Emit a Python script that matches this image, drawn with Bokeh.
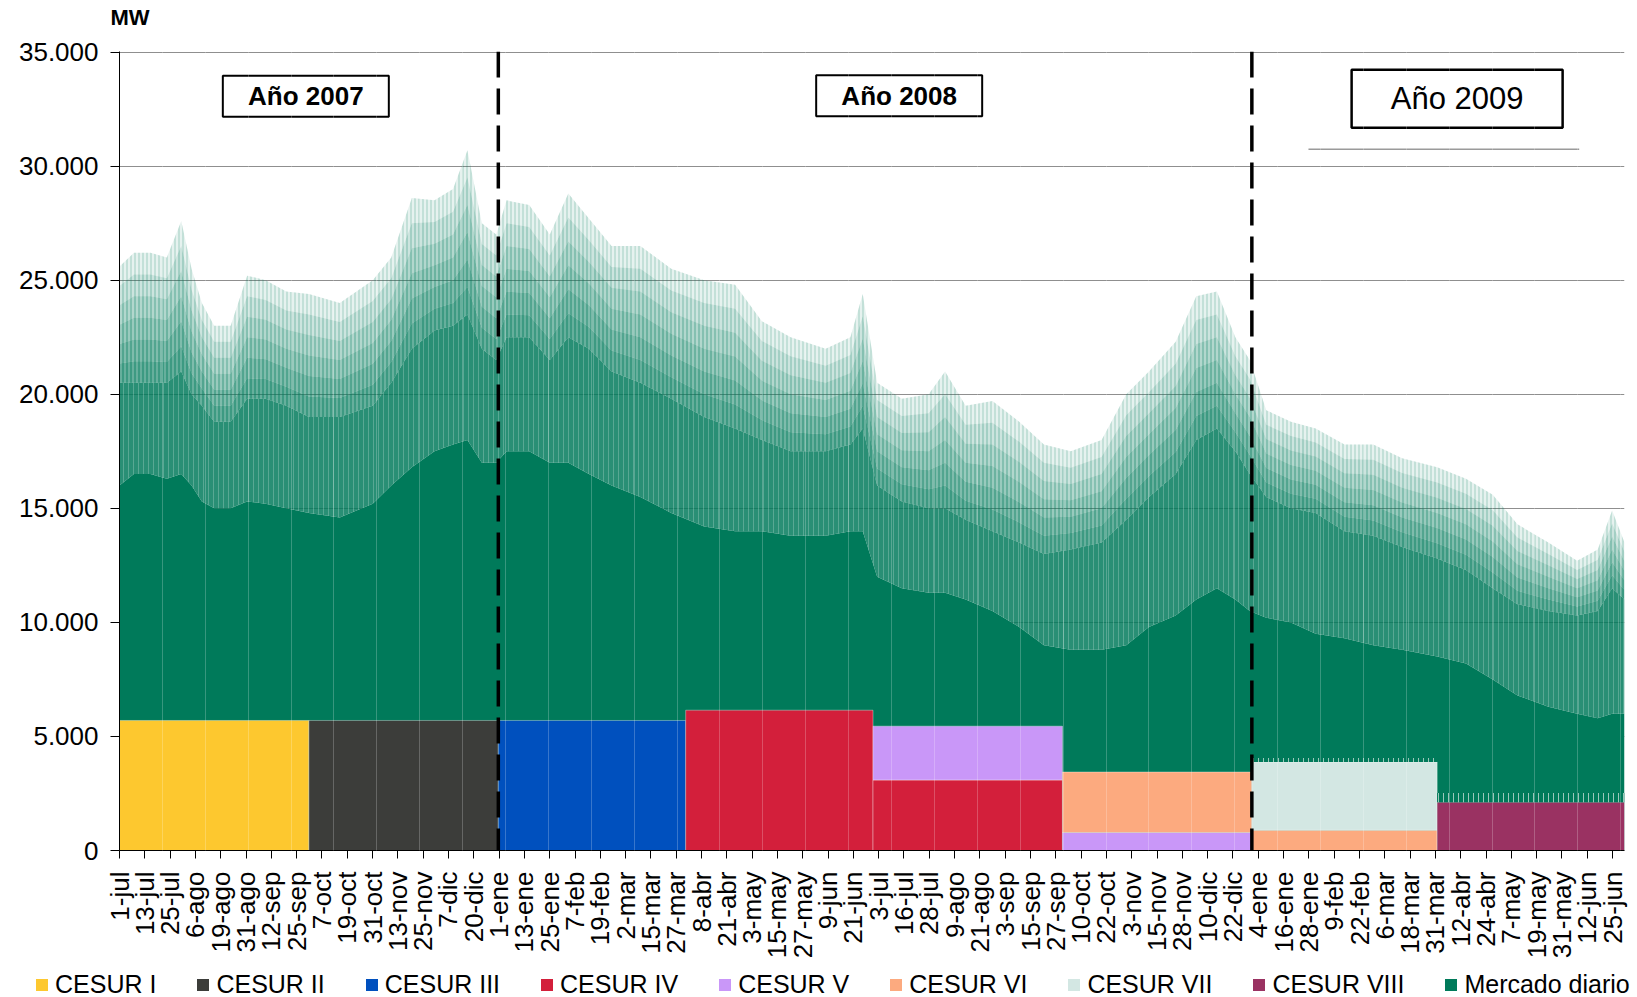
import numpy as np
import pandas as pd
from bokeh.plotting import figure
from bokeh.layouts import column
from bokeh.models import (Range1d, FixedTicker, Span, Label, Legend, LegendItem,
                          Grid, ColumnDataSource)
from bokeh.embed import file_html
from bokeh.resources import INLINE

# ---------------- data ----------------
START = pd.Timestamp("2007-07-01")
END = pd.Timestamp("2009-07-01")

x_tick_labels = ["1-jul", "13-jul", "25-jul", "6-ago", "19-ago", "31-ago", "12-sep", "25-sep",
                 "7-oct", "19-oct", "31-oct", "13-nov", "25-nov", "7-dic", "20-dic", "1-ene",
                 "13-ene", "25-ene", "7-feb", "19-feb", "2-mar", "15-mar", "27-mar", "8-abr",
                 "21-abr", "3-may", "15-may", "27-may", "9-jun", "21-jun", "3-jul", "16-jul",
                 "28-jul", "9-ago", "21-ago", "3-sep", "15-sep", "27-sep", "10-oct", "22-oct",
                 "3-nov", "15-nov", "28-nov", "10-dic", "22-dic", "4-ene", "16-ene", "28-ene",
                 "9-feb", "22-feb", "6-mar", "18-mar", "31-mar", "12-abr", "24-abr", "7-may",
                 "19-may", "31-may", "12-jun", "25-jun"]
x_tick_hours = 295  # one label every 295 hourly points

y_tick_values = [0, 5000, 10000, 15000, 20000, 25000, 30000, 35000]
y_tick_labels = ["0", "5.000", "10.000", "15.000", "20.000", "25.000", "30.000", "35.000"]

# Mercado diario (hourly series) read as envelopes: peak hours, dense band, solid night floor (MW)
env_dates = ["2007-07-01", "2007-07-08", "2007-07-16", "2007-07-24", "2007-07-31", "2007-08-05",
             "2007-08-10", "2007-08-16", "2007-08-24", "2007-09-01", "2007-09-10", "2007-09-20",
             "2007-10-01", "2007-10-16", "2007-11-01", "2007-11-10", "2007-11-20", "2007-12-01",
             "2007-12-10", "2007-12-17", "2007-12-24", "2007-12-31", "2008-01-05", "2008-01-16",
             "2008-01-26", "2008-02-04", "2008-02-14", "2008-02-25", "2008-03-10", "2008-03-25",
             "2008-04-10", "2008-04-25", "2008-05-08", "2008-05-22", "2008-06-08", "2008-06-20",
             "2008-06-26", "2008-07-03", "2008-07-15", "2008-07-28", "2008-08-05", "2008-08-15",
             "2008-08-28", "2008-09-10", "2008-09-22", "2008-10-05", "2008-10-20", "2008-11-01",
             "2008-11-12", "2008-11-25", "2008-12-05", "2008-12-15", "2008-12-24", "2008-12-31",
             "2009-01-08", "2009-01-20", "2009-02-01", "2009-02-15", "2009-03-01", "2009-03-15",
             "2009-04-01", "2009-04-15", "2009-04-28", "2009-05-10", "2009-05-25", "2009-06-08",
             "2009-06-18", "2009-06-25", "2009-07-01"]
env_peak = [25600, 26200, 26200, 26000, 27600, 25500, 24000, 23000, 23000, 25200, 25000, 24500,
            24400, 24000, 25000, 26000, 28600, 28500, 29000, 30700, 27500, 27000, 28500, 28300,
            27000, 28800, 27700, 26500, 26500, 25500, 25000, 24800, 23200, 22500, 22000, 22500,
            24400, 20500, 19800, 20000, 21000, 19500, 19700, 18800, 17800, 17500, 18000, 20000,
            21000, 22300, 24300, 24500, 22500, 21500, 19300, 18800, 18500, 17800, 17800, 17200,
            16800, 16300, 15600, 14300, 13500, 12700, 13200, 14900, 13500]
env_mid = [20500, 20500, 20500, 20500, 21000, 20000, 19500, 18800, 18800, 19800, 19800, 19500,
           19000, 19000, 19500, 20500, 22000, 22800, 23000, 23500, 22000, 21500, 22500, 22500,
           21500, 22500, 22000, 21000, 20500, 19800, 19000, 18500, 18000, 17500, 17500, 17800,
           18500, 16000, 15300, 15000, 15000, 14500, 14000, 13500, 13000, 13200, 13500, 14500,
           15500, 16500, 18000, 18500, 17500, 16500, 15500, 15000, 14800, 14000, 13800, 13300,
           12800, 12300, 11500, 10800, 10500, 10300, 10500, 11500, 11000]
env_floor = [16000, 16500, 16500, 16300, 16500, 16000, 15300, 15000, 15000, 15300, 15200, 15000,
             14800, 14600, 15200, 16000, 16800, 17500, 17800, 18000, 17000, 17000, 17500, 17500,
             17000, 17000, 16500, 16000, 15500, 14800, 14200, 14000, 14000, 13800, 13800, 14000,
             14000, 12000, 11500, 11300, 11300, 11000, 10500, 9800, 9000, 8800, 8800, 9000,
             9800, 10300, 11000, 11500, 11000, 10500, 10200, 10000, 9500, 9300, 9000, 8800,
             8500, 8200, 7500, 6800, 6300, 6000, 5800, 6000, 6000]

# CESUR auctions
cesur_names = ["CESUR I", "CESUR II", "CESUR III", "CESUR IV", "CESUR V", "CESUR VI",
               "CESUR VII", "CESUR VIII"]
block_product = ["CESUR I", "CESUR II", "CESUR III", "CESUR IV", "CESUR IV", "CESUR V",
                 "CESUR V", "CESUR VI", "CESUR VI", "CESUR VII", "CESUR VIII"]
block_start = ["2007-07-01", "2007-10-01", "2008-01-01", "2008-04-01", "2008-07-01", "2008-07-01",
               "2008-10-01", "2008-10-01", "2009-01-01", "2009-01-01", "2009-04-01"]
block_end = ["2007-10-01", "2008-01-01", "2008-04-01", "2008-07-01", "2008-10-01", "2008-10-01",
             "2009-01-01", "2009-01-01", "2009-04-01", "2009-04-01", "2009-07-01"]
block_mw = [5700, 5700, 5700, 6150, 3090, 2360, 790, 2650, 890, 2990, 2120]
fringe_product = ["CESUR VII", "CESUR VIII"]
fringe_mw = [170, 400]
market_name = "Mercado diario"
unit_label = "MW"

# ---------------- styles ----------------
GREEN = "#007A5A"
cesur_colors = {"CESUR I": "#FDC82F", "CESUR II": "#3C3D3A", "CESUR III": "#0050BE",
                "CESUR IV": "#D31F3B", "CESUR V": "#C997F8", "CESUR VI": "#FCAA7F",
                "CESUR VII": "#D3E7E3", "CESUR VIII": "#9A3262"}
FONT = "Liberation Sans"
W = 1632


def to_days(s):
    return (pd.to_datetime(pd.Series(s)) - START).dt.total_seconds().to_numpy() / 86400.0


def strip(height):
    f = figure(width=W, height=height, output_backend="svg", toolbar_location=None, title=None,
               x_range=Range1d(0, W), y_range=Range1d(0, height),
               x_axis_type=None, y_axis_type=None,
               min_border_left=0, min_border_right=0, min_border_top=0, min_border_bottom=0)
    f.frame_align = False
    f.outline_line_color = None
    f.xgrid.grid_line_color = None
    f.ygrid.grid_line_color = None
    return f


total_days = (END - START).days

# ---------------- header strip (unit) ----------------
HDR_H = 30
hdr = strip(HDR_H)
hdr.add_layout(Label(x=110, y=HDR_H - 16.5, text=unit_label, text_font=FONT,
                     text_font_size="22px", text_font_style="bold", text_color="black",
                     text_align="left", text_baseline="middle"))

# ---------------- main chart ----------------
p = figure(width=W, height=931, output_backend="svg", toolbar_location=None, title=None,
           x_range=Range1d(0, total_days), y_range=Range1d(0, 35025),
           min_border_left=119, min_border_right=8, min_border_top=21, min_border_bottom=110)
p.frame_align = False
p.outline_line_color = None
p.background_fill_color = "white"

tick_days = np.arange(len(x_tick_labels)) * x_tick_hours / 24.0
p.xaxis.ticker = FixedTicker(ticks=list(tick_days))
p.xaxis.major_label_overrides = {float(t): l for t, l in zip(tick_days, x_tick_labels)}
p.xaxis.major_label_orientation = np.pi / 2
p.yaxis.ticker = FixedTicker(ticks=y_tick_values)
p.yaxis.major_label_overrides = {v: l for v, l in zip(y_tick_values, y_tick_labels)}
for ax in (p.xaxis, p.yaxis):
    ax.axis_line_color = "black"
    ax.axis_line_width = 1
    ax.major_tick_line_color = "black"
    ax.major_tick_in = 0
    ax.minor_tick_line_color = None
    ax.major_label_text_font = FONT
    ax.major_label_text_font_size = "26px"
    ax.major_label_text_color = "black"
p.xaxis.major_tick_out = 8
p.yaxis.major_tick_out = 9
p.xaxis.major_label_standoff = 13
p.yaxis.major_label_standoff = 12

p.xgrid.grid_line_color = None
p.ygrid.ticker = FixedTicker(ticks=y_tick_values)
p.ygrid.grid_line_color = "#8f8f8f"
p.ygrid.grid_line_width = 1

# Mercado diario
ed = to_days(env_dates)
peak = np.array(env_peak, float)
mid = np.array(env_mid, float)
floor = np.array(env_floor, float)
p.varea(x=ed, y1=0, y2=floor, fill_color=GREEN)
p.varea(x=ed, y1=floor, y2=mid, fill_color=GREEN, fill_alpha=0.84,
        hatch_pattern="vertical_line", hatch_color="white", hatch_alpha=0.22,
        hatch_scale=5, hatch_weight=1)
n_sub = 6
for k in range(n_sub):
    f0, f1 = k / n_sub, (k + 1) / n_sub
    a = 0.6 - 0.5 * k / (n_sub - 1)
    p.varea(x=ed, y1=mid + (peak - mid) * f0, y2=mid + (peak - mid) * f1,
            fill_color=GREEN, fill_alpha=a,
            hatch_pattern="vertical_line", hatch_color=GREEN, hatch_alpha=min(1.0, a + 0.2),
            hatch_scale=4, hatch_weight=1)

# CESUR blocks (stacked within each period)
bs = to_days(block_start)
be = to_days(block_end)
bottoms, tops = [], []
acc = {}
for s, mw in zip(block_start, block_mw):
    b = acc.get(s, 0)
    bottoms.append(b)
    tops.append(b + mw)
    acc[s] = b + mw

for name in cesur_names:
    idx = [i for i, bp in enumerate(block_product) if bp == name]
    src = ColumnDataSource(dict(left=bs[idx], right=be[idx],
                                bottom=[bottoms[i] for i in idx], top=[tops[i] for i in idx]))
    p.quad(left="left", right="right", bottom="bottom", top="top",
           source=src, fill_color=cesur_colors[name],
           line_color="white", line_alpha=0.35, line_width=1)

# hourly fringe on top of the last blocks
for name, fmw in zip(fringe_product, fringe_mw):
    i = max(i for i, bp in enumerate(block_product) if bp == name)
    p.quad(left=[bs[i]], right=[be[i]], bottom=[tops[i]], top=[tops[i] + fmw],
           fill_color=GREEN, fill_alpha=1, line_color=None,
           hatch_pattern="vertical_line", hatch_color="#cfe0da", hatch_alpha=0.75,
           hatch_scale=5, hatch_weight=1)

# faint seams every 500 hours (as in the original rendering)
seams = Grid(dimension=0, ticker=FixedTicker(ticks=list(np.arange(500, total_days * 24, 500) / 24.0)),
             grid_line_color="white", grid_line_alpha=0.22, grid_line_width=1, level="annotation")
p.add_layout(seams)

# year separators
for d in ["2008-01-01", "2009-01-01"]:
    p.add_layout(Span(location=float(to_days([d])[0]), dimension="height", line_color="black",
                      line_width=3.5, line_dash="26 11"))

# year boxes
p.rect(x=[90.5, 378.7], y=[33060, 33090], width=166, height=41, width_units="screen",
       height_units="screen", fill_color="white", line_color="black", line_width=2)
p.rect(x=[649.7], y=[32950], width=211, height=58, width_units="screen",
       height_units="screen", fill_color="white", line_color="black", line_width=2.5)
p.add_layout(Label(x=90.5, y=33060, text="Año 2007", text_font=FONT, text_font_size="26px",
                   text_font_style="bold", text_color="black", text_align="center",
                   text_baseline="middle"))
p.add_layout(Label(x=378.7, y=33090, text="Año 2008", text_font=FONT, text_font_size="26px",
                   text_font_style="bold", text_color="black", text_align="center",
                   text_baseline="middle"))
p.add_layout(Label(x=649.7, y=32950, text="Año 2009", text_font=FONT, text_font_size="31px",
                   text_color="black", text_align="center", text_baseline="middle"))
p.line(x=[577.5, 709.0], y=[30744, 30744], line_color="#9a9a9a", line_width=1.5)

# ---------------- legend strip ----------------
LG_H = 36
lg = strip(LG_H)
items = []
for name in cesur_names + [market_name]:
    col = cesur_colors.get(name, GREEN)
    # swatch renderer kept outside the visible strip; only its legend entry is seen
    r = lg.quad(left=[-50], right=[-40], bottom=[-50], top=[-40], fill_color=col, line_color=None)
    items.append(LegendItem(label=name, renderers=[r]))
legend = Legend(items=items, orientation="horizontal", location=(34, -2),
                glyph_width=15, glyph_height=15, label_standoff=6, spacing=39,
                padding=0, margin=0, border_line_color=None, background_fill_alpha=0,
                label_text_font=FONT, label_text_font_size="25px", label_text_color="black")
lg.add_layout(legend)

open("out.html", "w").write(file_html(column(hdr, p, lg, spacing=0), INLINE))
